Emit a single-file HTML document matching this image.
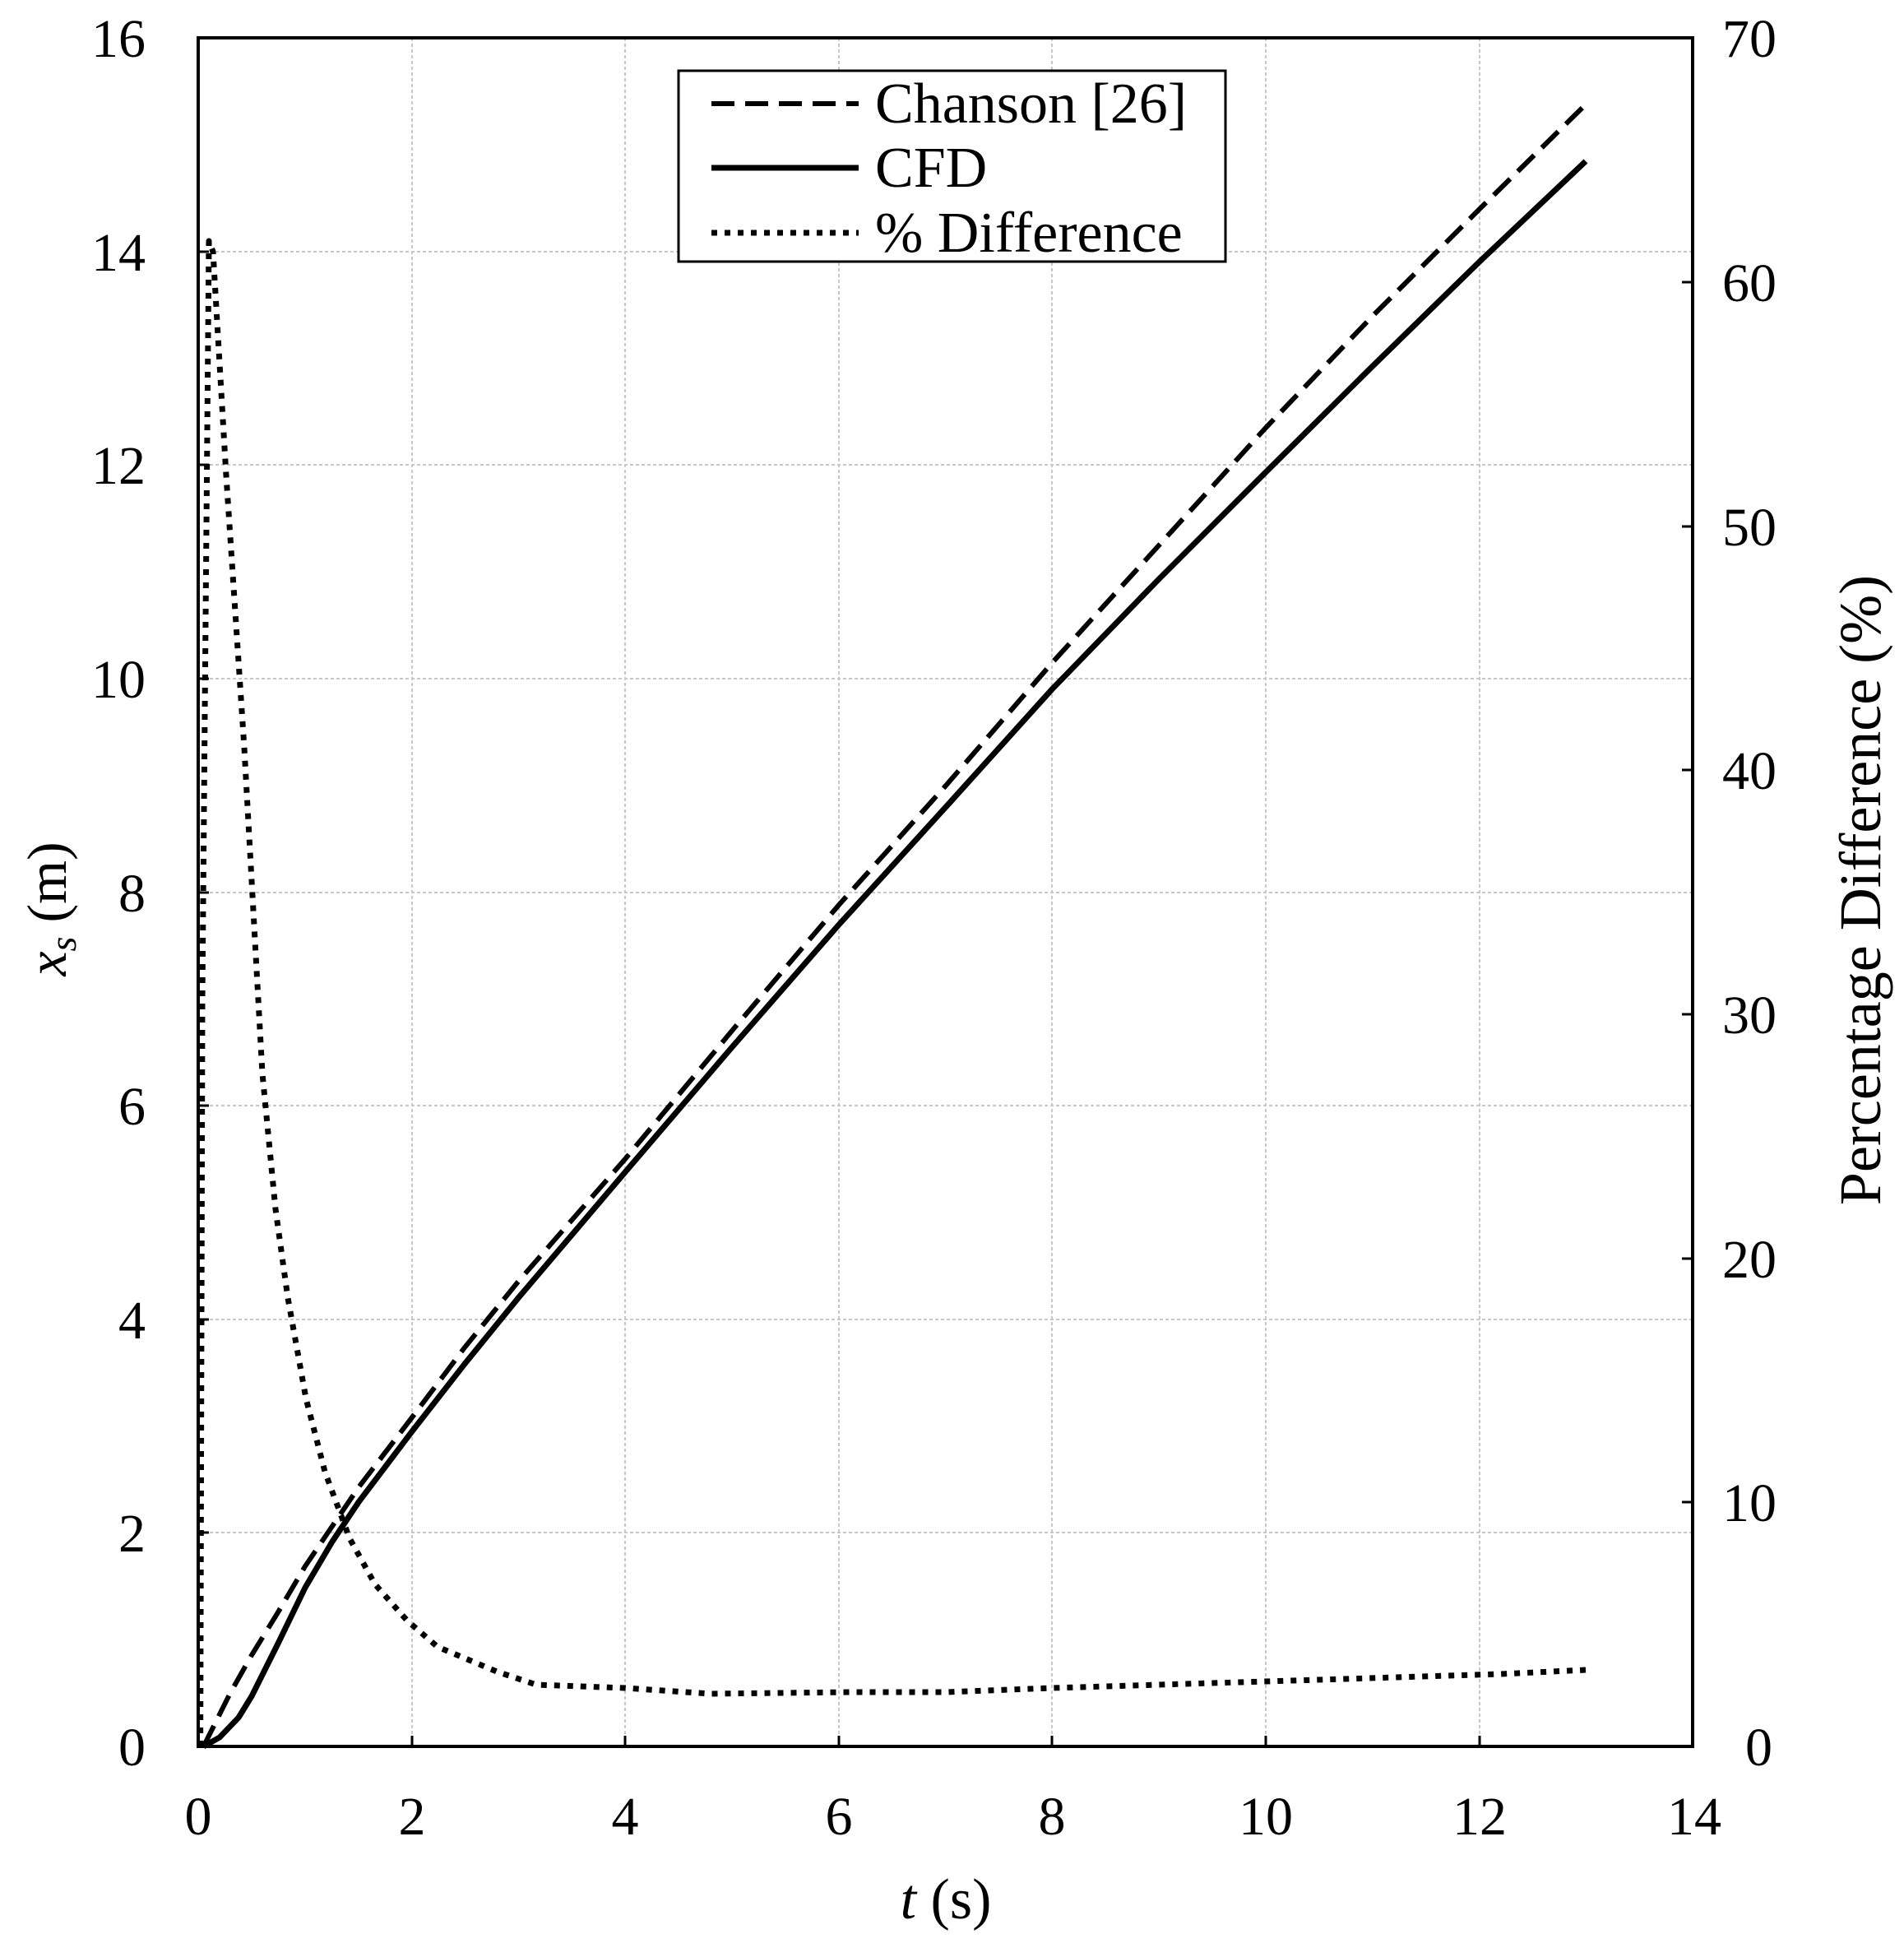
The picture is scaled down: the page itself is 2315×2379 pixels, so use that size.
<!DOCTYPE html>
<html><head><meta charset="utf-8"><style>html,body{margin:0;padding:0;background:#fff}</style></head>
<body>
<svg width="2315" height="2374" viewBox="0 0 2315 2374" xmlns="http://www.w3.org/2000/svg" font-family="Liberation Serif, serif" font-size="66">
<g stroke="#c8c8c8" stroke-width="2" stroke-dasharray="4,3">
<line x1="501" y1="46" x2="501" y2="2123"/><line x1="760" y1="46" x2="760" y2="2123"/><line x1="1020" y1="46" x2="1020" y2="2123"/><line x1="1279" y1="46" x2="1279" y2="2123"/><line x1="1539" y1="46" x2="1539" y2="2123"/><line x1="1799" y1="46" x2="1799" y2="2123"/>
<line x1="241" y1="1863" x2="2058" y2="1863"/><line x1="241" y1="1604" x2="2058" y2="1604"/><line x1="241" y1="1344" x2="2058" y2="1344"/><line x1="241" y1="1085" x2="2058" y2="1085"/><line x1="241" y1="825" x2="2058" y2="825"/><line x1="241" y1="565" x2="2058" y2="565"/><line x1="241" y1="306" x2="2058" y2="306"/>
</g>
<g stroke="#000" stroke-width="3">
<path d="M241 1863h13M241 1604h13M241 1344h13M241 1085h13M241 825h13M241 565h13M241 306h13"/>
<path d="M2058 1826h-13M2058 1530h-13M2058 1233h-13M2058 936h-13M2058 640h-13M2058 343h-13"/>
<path d="M501 2123v-13M760 2123v-13M1020 2123v-13M1279 2123v-13M1539 2123v-13M1799 2123v-13"/>
</g>
<rect x="241" y="46" width="1817" height="2077" fill="none" stroke="#000" stroke-width="4"/>
<polyline fill="none" stroke="#000" stroke-width="6" stroke-linejoin="round" stroke-dasharray="28,13" points="247.5,2123 280,2058 306,2012 338,1960 371,1904 436,1808 501,1723 565,1638 630,1558 760,1409 890,1253 1020,1100 1150,955 1279,806 1409,663 1539,520 1669,384 1799,254 1928,127"/>
<polyline fill="none" stroke="#000" stroke-width="7" stroke-linejoin="round" points="247.5,2123 267,2112 290,2088 306,2062 338,1998 371,1930 404,1874 436,1826 501,1740 565,1658 630,1578 760,1425 890,1273 1020,1124 1150,981 1279,838 1409,704 1539,574 1669,445 1799,318 1928,196"/>
<polyline fill="none" stroke="#000" stroke-width="7" stroke-dasharray="7,9" stroke-linejoin="round" points="243.6,2123 246,1214 254,293 259,306 275,578 297,909 319,1305 335,1470 350,1578 372,1700 395,1789 425,1870 456,1926 495,1970 532,2002 604,2032 652,2048 760,2052 864,2059 1033,2057 1150,2057 1279,2052 1539,2044 1825,2035 1928,2030"/>
<rect x="825" y="86" width="665" height="232" fill="#fff" stroke="#000" stroke-width="3"/>
<line x1="865" y1="126" x2="1044" y2="126" stroke="#000" stroke-width="6" stroke-dasharray="28,13"/>
<line x1="865" y1="204" x2="1044" y2="204" stroke="#000" stroke-width="7"/>
<line x1="865" y1="283" x2="1044" y2="283" stroke="#000" stroke-width="7" stroke-dasharray="7,9"/>
<g font-size="70">
<text x="1064" y="149">Chanson [26]</text>
<text x="1064" y="227">CFD</text>
<text x="1064" y="306">% Difference</text>
</g>
<g text-anchor="end">
<text x="177" y="2146">0</text><text x="177" y="1886">2</text><text x="177" y="1627">4</text><text x="177" y="1367">6</text><text x="177" y="1108">8</text><text x="177" y="848">10</text><text x="177" y="588">12</text><text x="177" y="329">14</text><text x="177" y="69">16</text>
</g>
<g text-anchor="start">
<text x="2122" y="2146">0</text><text x="2094" y="1849">10</text><text x="2094" y="1553">20</text><text x="2094" y="1256">30</text><text x="2094" y="959">40</text><text x="2094" y="663">50</text><text x="2094" y="366">60</text><text x="2094" y="69">70</text>
</g>
<g text-anchor="middle">
<text x="241" y="2230">0</text><text x="501" y="2230">2</text><text x="760" y="2230">4</text><text x="1020" y="2230">6</text><text x="1279" y="2230">8</text><text x="1539" y="2230">10</text><text x="1799" y="2230">12</text><text x="2060" y="2230">14</text>
</g>
<text x="1150" y="2332" text-anchor="middle" font-size="70"><tspan font-style="italic">t</tspan> (s)</text>
<text transform="translate(80,1105) rotate(-90)" text-anchor="middle" font-size="68"><tspan font-style="italic">x</tspan><tspan font-style="italic" font-size="46" dy="12">s</tspan><tspan dy="-12"> (m)</tspan></text>
<text transform="translate(2286,1082) rotate(-90)" text-anchor="middle" font-size="72">Percentage Difference (%)</text>
</svg>
</body></html>
